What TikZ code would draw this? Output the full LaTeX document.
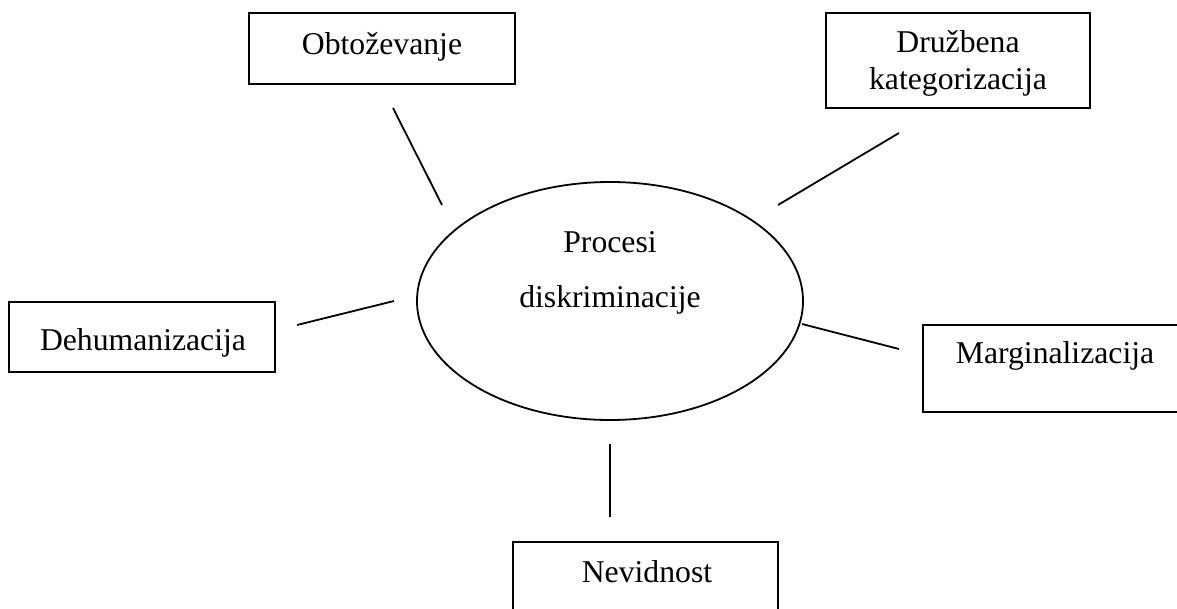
\documentclass[tikz,border=0pt]{standalone}
\usepackage{fontspec}
\setmainfont{Liberation Serif}
\usetikzlibrary{shapes.geometric}
\begin{document}
\begin{tikzpicture}[x=1pt,y=-1pt,
  box/.style={draw,line width=2pt,rectangle,inner sep=0pt},
  hub/.style={draw,line width=1.8pt,ellipse,inner sep=0pt},
  lbl/.style={inner sep=0pt,anchor=base,font=\fontsize{31.7}{37}\selectfont},
  link/.style={line width=1.8pt}]
\useasboundingbox (0,0) rectangle (1177,609);
% central ellipse
\node[hub,minimum width=386pt,minimum height=238pt] (hub) at (610,301) {};
\node[lbl] (hubA) at (610,253) {Procesi};
\node[lbl] (hubB) at (610,308) {diskriminacije};
% surrounding boxes
\node[box,minimum width=266pt,minimum height=71pt] (obt) at (382,48.5) {};
\node[lbl] (obtT) at (382,55) {Obtoževanje};
\node[box,minimum width=264pt,minimum height=95pt] (druz) at (958,60.5) {};
\node[lbl] (druzA) at (958,53) {Družbena};
\node[lbl] (druzB) at (958,90) {kategorizacija};
\node[box,minimum width=266pt,minimum height=70pt] (dehu) at (142,337) {};
\node[lbl] (dehuT) at (143,350) {Dehumanizacija};
\node[box,minimum width=264pt,minimum height=87pt] (marg) at (1055,368.5) {};
\node[lbl] (margT) at (1055,363) {Marginalizacija};
\node[box,minimum width=265pt,minimum height=100pt] (nev) at (645.5,592) {};
\node[lbl] (nevT) at (647,582) {Nevidnost};
% connector end points
\coordinate (o1) at (393,108);  \coordinate (o2) at (442,205);
\coordinate (d1) at (778,205);  \coordinate (d2) at (899,133);
\coordinate (h1) at (297,325);  \coordinate (h2) at (394,301);
\coordinate (m1) at (802,324);  \coordinate (m2) at (899,349);
\coordinate (n1) at (610,444);  \coordinate (n2) at (610,517);
\draw[link] (o1) -- (o2);
\draw[link] (d1) -- (d2);
\draw[link] (h1) -- (h2);
\draw[link] (m1) -- (m2);
\draw[link] (n1) -- (n2);
\end{tikzpicture}
\end{document}
